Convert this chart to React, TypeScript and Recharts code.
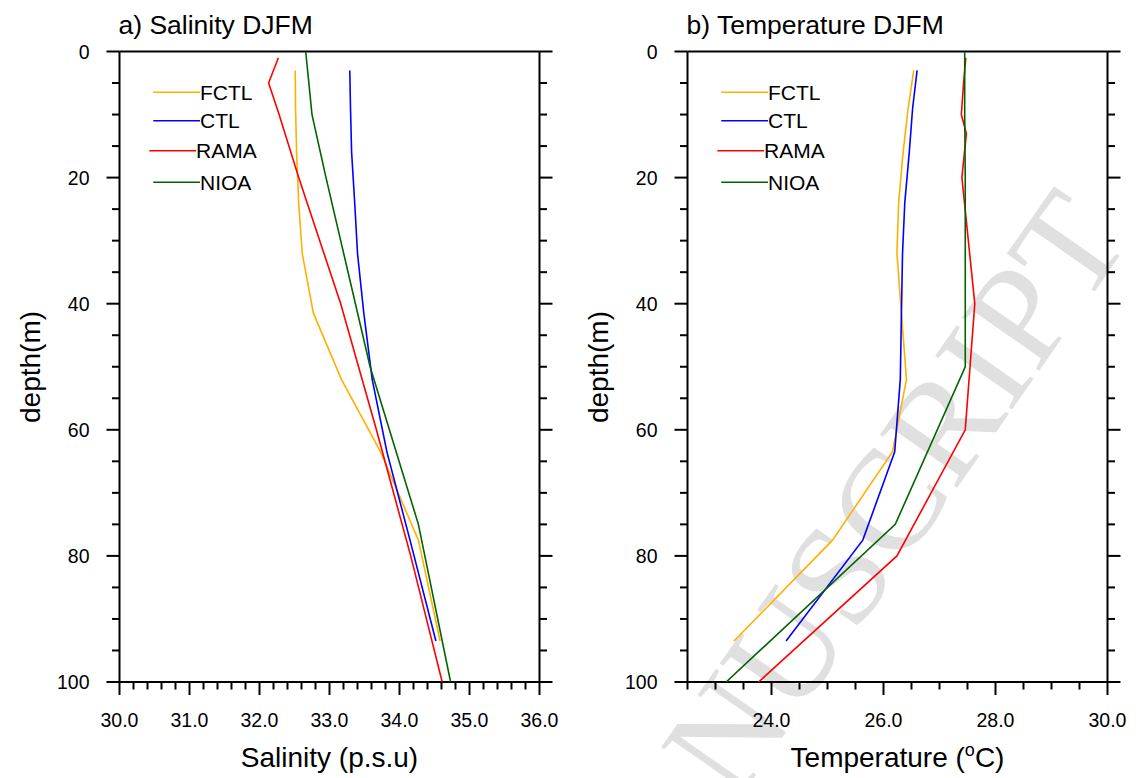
import React from "react";
import { ScatterChart, Scatter, XAxis, YAxis, ReferenceLine } from "recharts";

// depth levels (m) of each source
const MODEL_DEPTHS = [3, 9, 16, 24, 32, 41.5, 52, 63.5, 77.5, 93.5];
const RAMA_SAL_DEPTHS = [1, 5, 10, 20, 40, 60, 80, 100];
const RAMA_TEMP_DEPTHS = [1, 5, 10, 13, 20, 40, 60, 80, 100];
const NIOA_DEPTHS = [0, 10, 20, 30, 50, 75, 100];

// salinity (p.s.u)
const FCTL_SAL = [32.51, 32.515, 32.53, 32.56, 32.61, 32.77, 33.17, 33.73, 34.27, 34.58];
const CTL_SAL = [33.29, 33.3, 33.316, 33.36, 33.4, 33.49, 33.61, 33.82, 34.15, 34.52];
const RAMA_SAL = [32.27, 32.13, 32.28, 32.56, 33.16, 33.67, 34.16, 34.61];
const NIOA_SAL = [32.66, 32.75, 32.95, 33.16, 33.58, 34.27, 34.73];

// temperature (degC)
const FCTL_TEMP = [26.54, 26.44, 26.35, 26.27, 26.24, 26.32, 26.41, 26.16, 25.09, 23.33];
const CTL_TEMP = [26.6, 26.52, 26.46, 26.38, 26.34, 26.32, 26.3, 26.2, 25.63, 24.26];
const RAMA_TEMP = [27.47, 27.43, 27.39, 27.48, 27.4, 27.63, 27.46, 26.24, 23.77];
const NIOA_TEMP = [27.45, 27.45, 27.46, 27.46, 27.46, 26.21, 23.19];

const SAL_MAJOR = [30, 31, 32, 33, 34, 35, 36];
const TEMP_MAJOR = [24, 26, 28, 30];
const DEPTH_MAJOR = [0, 20, 40, 60, 80, 100];

const SERIES_NAMES = ["FCTL", "CTL", "RAMA", "NIOA"];
const COLORS = ["#ffb000", "#0000ff", "#ff0000", "#006400"];

const FONT = "'Liberation Sans', Arial, Helvetica, sans-serif";

function range(start: number, stop: number, step: number) {
  const out: number[] = [];
  for (let v = start; v <= stop + 1e-9; v += step) out.push(Math.round(v * 1000) / 1000);
  return out;
}

function profile(values: number[], depths: number[]) {
  return values.map((v, i) => ({ v, d: depths[i] }));
}

const isMajor = (majors: number[], v: number) => majors.some((m) => Math.abs(m - v) < 1e-6);

function BottomTick(props: any) {
  const { x, y, payload, majors } = props;
  const major = isMajor(majors, payload.value);
  return (
    <g>
      <line x1={x} x2={x} y1={y} y2={y + (major ? 13 : 7.5)} stroke="#000" strokeWidth={2} />
      {major && (
        <text x={x} y={y + 45} textAnchor="middle" fontSize={19.5} fontFamily={FONT} fill="#000">
          {payload.value.toFixed(1)}
        </text>
      )}
    </g>
  );
}

function LeftTick(props: any) {
  const { x, y, payload } = props;
  const major = isMajor(DEPTH_MAJOR, payload.value);
  return (
    <g>
      <line x1={x} x2={x - (major ? 13 : 7.5)} y1={y} y2={y} stroke="#000" strokeWidth={2} />
      {major && (
        <text x={x - 30} y={y} dy="0.36em" textAnchor="end" fontSize={19.5} fontFamily={FONT} fill="#000">
          {payload.value}
        </text>
      )}
    </g>
  );
}

function RightTick(props: any) {
  const { x, y, payload } = props;
  const major = isMajor(DEPTH_MAJOR, payload.value);
  return <line x1={x} x2={x + (major ? 13 : 7.5)} y1={y} y2={y} stroke="#000" strokeWidth={2} />;
}

const noShape = () => <g />;

function Panel({
  series,
  domain,
  majors,
  minorStep,
}: {
  series: { v: number; d: number }[][];
  domain: [number, number];
  majors: number[];
  minorStep: number;
}) {
  const xTicks = range(domain[0], domain[1], minorStep);
  const yTicks = range(0, 100, 5);
  return (
    <ScatterChart width={568} height={778} margin={{ top: 51.5, right: 8.5, bottom: 36, left: 59.5 }}>
      <XAxis
        type="number"
        dataKey="v"
        domain={domain}
        allowDataOverflow
        ticks={xTicks}
        interval={0}
        height={60}
        tickSize={0}
        tickMargin={0}
        tickLine={false}
        axisLine={{ stroke: "#000", strokeWidth: 2 }}
        tick={(p: any) => <BottomTick {...p} majors={majors} />}
      />
      <YAxis
        type="number"
        dataKey="d"
        domain={[0, 100]}
        reversed
        allowDataOverflow
        ticks={yTicks}
        interval={0}
        width={60}
        tickSize={0}
        tickMargin={0}
        tickLine={false}
        axisLine={{ stroke: "#000", strokeWidth: 2 }}
        tick={(p: any) => <LeftTick {...p} />}
      />
      <YAxis
        yAxisId="r"
        orientation="right"
        type="number"
        dataKey="d"
        domain={[0, 100]}
        reversed
        allowDataOverflow
        ticks={yTicks}
        interval={0}
        width={20}
        tickSize={0}
        tickMargin={0}
        tickLine={false}
        axisLine={{ stroke: "#000", strokeWidth: 2 }}
        tick={(p: any) => <RightTick {...p} />}
      />
      <ReferenceLine y={0} stroke="#000" strokeWidth={2} />
      {series.map((data, i) => (
        <Scatter
          key={SERIES_NAMES[i]}
          name={SERIES_NAMES[i]}
          data={data}
          fill={COLORS[i]}
          stroke={COLORS[i]}
          line={{ stroke: COLORS[i], strokeWidth: 1.6 }}
          lineType="joint"
          shape={noShape}
          isAnimationActive={false}
        />
      ))}
    </ScatterChart>
  );
}

function Overlay({ ox, title, xTitle }: { ox: number; title: string; xTitle: React.ReactNode }) {
  const legendY = [92.3, 120.7, 150.7, 182.3];
  const legendX = [153.3, 153.3, 149.3, 153.3];
  return (
    <g fontFamily={FONT} fill="#000">
      <text x={ox + 118.5} y={33.5} fontSize={26.5}>
        {title}
      </text>
      <text x={ox + 329.5} y={767} fontSize={28} textAnchor="middle">
        {xTitle}
      </text>
      <text
        x={ox + 30}
        y={367}
        fontSize={28}
        textAnchor="middle"
        dominantBaseline="central"
        transform={`rotate(-90 ${ox + 30} 367)`}
      >
        depth(m)
      </text>
      {SERIES_NAMES.map((name, i) => (
        <g key={name}>
          <line
            x1={ox + legendX[i]}
            x2={ox + legendX[i] + 46.7}
            y1={legendY[i]}
            y2={legendY[i]}
            stroke={COLORS[i]}
            strokeWidth={1.6}
          />
          <text x={ox + legendX[i] + 46.7} y={legendY[i]} dy="0.36em" fontSize={21}>
            {name}
          </text>
        </g>
      ))}
    </g>
  );
}

export default function App() {
  const salinity = [
    profile(FCTL_SAL, MODEL_DEPTHS),
    profile(CTL_SAL, MODEL_DEPTHS),
    profile(RAMA_SAL, RAMA_SAL_DEPTHS),
    profile(NIOA_SAL, NIOA_DEPTHS),
  ];
  const temperature = [
    profile(FCTL_TEMP, MODEL_DEPTHS),
    profile(CTL_TEMP, MODEL_DEPTHS),
    profile(RAMA_TEMP, RAMA_TEMP_DEPTHS),
    profile(NIOA_TEMP, NIOA_DEPTHS),
  ];

  return (
    <div
      style={{
        position: "absolute",
        left: 0,
        top: 0,
        width: 1136,
        height: 778,
        background: "#fff",
        overflow: "hidden",
      }}
    >
      <svg width={1136} height={778} style={{ position: "absolute", left: 0, top: 0 }}>
        <text
          x={1132}
          y={238}
          textAnchor="end"
          fontSize={143}
          fontFamily="'Liberation Serif', 'DejaVu Serif', serif"
          fill="#e0e0e0"
          transform="rotate(-55 1132 238)"
        >
          MANUSCRIPT
        </text>
      </svg>
      <div style={{ position: "absolute", left: 0, top: 0 }}>
        <Panel series={salinity} domain={[30, 36]} majors={SAL_MAJOR} minorStep={0.2} />
      </div>
      <div style={{ position: "absolute", left: 568, top: 0 }}>
        <Panel series={temperature} domain={[22.5, 30]} majors={TEMP_MAJOR} minorStep={0.5} />
      </div>
      <svg
        width={1136}
        height={778}
        style={{ position: "absolute", left: 0, top: 0, pointerEvents: "none" }}
      >
        <Overlay ox={0} title="a) Salinity DJFM" xTitle="Salinity (p.s.u)" />
        <Overlay
          ox={568}
          title="b) Temperature DJFM"
          xTitle={
            <>
              Temperature (
              <tspan fontSize={18} dy={-11}>
                o
              </tspan>
              <tspan dy={11}>C)</tspan>
            </>
          }
        />
      </svg>
    </div>
  );
}
